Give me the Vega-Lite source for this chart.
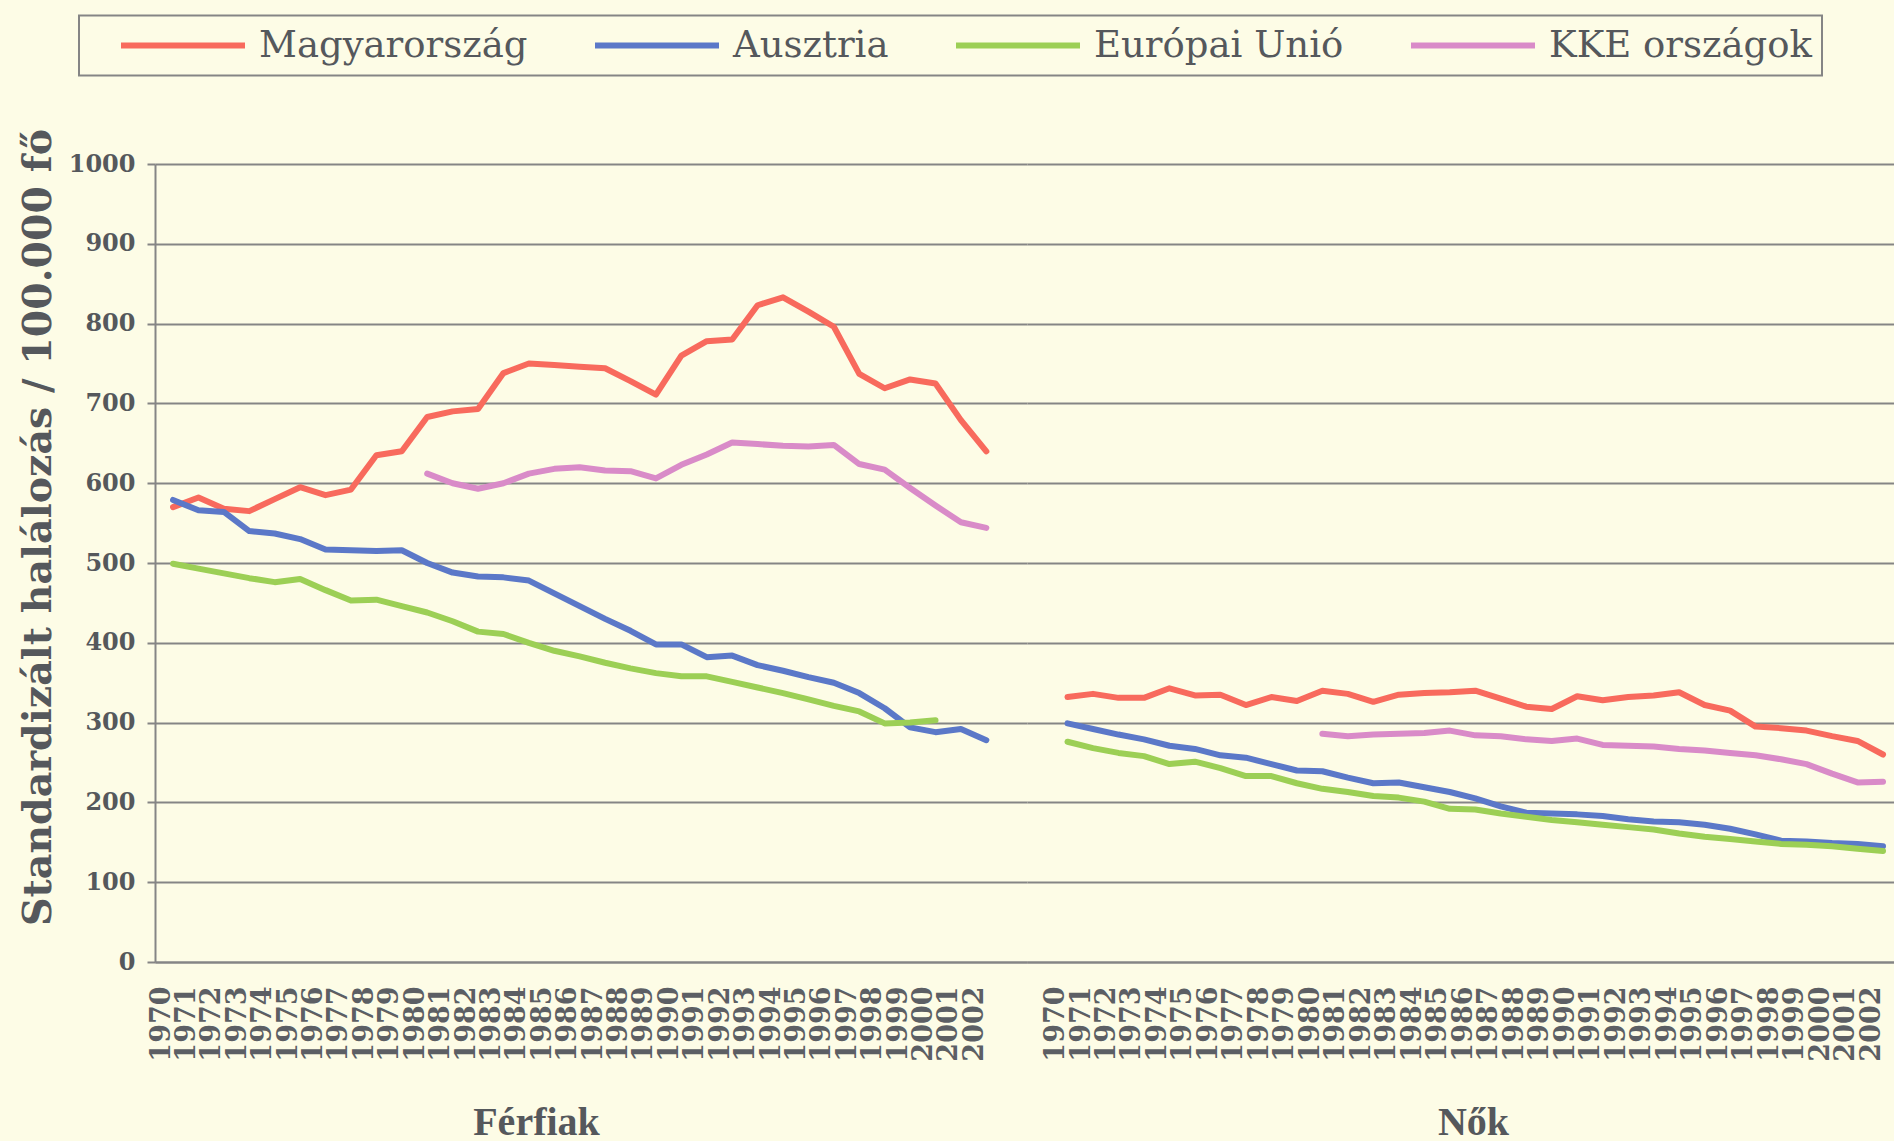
{
  "$schema": "https://vega.github.io/schema/vega-lite/v6.json",
  "background": "#fdfce6",
  "padding": {"left": 17, "top": 14, "right": 0, "bottom": 0},
  "spacing": 0,
  "datasets": {
    "ferfiak": [
      {"sor": "Magyarország", "ev": 1970, "ertek": 570}, {"sor": "Magyarország", "ev": 1971, "ertek": 582}, {"sor": "Magyarország", "ev": 1972, "ertek": 568}, {"sor": "Magyarország", "ev": 1973, "ertek": 565}, {"sor": "Magyarország", "ev": 1974, "ertek": 580}, {"sor": "Magyarország", "ev": 1975, "ertek": 595}, {"sor": "Magyarország", "ev": 1976, "ertek": 585}, {"sor": "Magyarország", "ev": 1977, "ertek": 592}, {"sor": "Magyarország", "ev": 1978, "ertek": 635}, {"sor": "Magyarország", "ev": 1979, "ertek": 640}, {"sor": "Magyarország", "ev": 1980, "ertek": 683}, {"sor": "Magyarország", "ev": 1981, "ertek": 690}, {"sor": "Magyarország", "ev": 1982, "ertek": 693}, {"sor": "Magyarország", "ev": 1983, "ertek": 738}, {"sor": "Magyarország", "ev": 1984, "ertek": 750}, {"sor": "Magyarország", "ev": 1985, "ertek": 748}, {"sor": "Magyarország", "ev": 1986, "ertek": 746}, {"sor": "Magyarország", "ev": 1987, "ertek": 744}, {"sor": "Magyarország", "ev": 1988, "ertek": 728}, {"sor": "Magyarország", "ev": 1989, "ertek": 711}, {"sor": "Magyarország", "ev": 1990, "ertek": 760}, {"sor": "Magyarország", "ev": 1991, "ertek": 778}, {"sor": "Magyarország", "ev": 1992, "ertek": 780}, {"sor": "Magyarország", "ev": 1993, "ertek": 823}, {"sor": "Magyarország", "ev": 1994, "ertek": 833}, {"sor": "Magyarország", "ev": 1995, "ertek": 815}, {"sor": "Magyarország", "ev": 1996, "ertek": 796}, {"sor": "Magyarország", "ev": 1997, "ertek": 737}, {"sor": "Magyarország", "ev": 1998, "ertek": 719}, {"sor": "Magyarország", "ev": 1999, "ertek": 730}, {"sor": "Magyarország", "ev": 2000, "ertek": 725}, {"sor": "Magyarország", "ev": 2001, "ertek": 679}, {"sor": "Magyarország", "ev": 2002, "ertek": 640},
      {"sor": "Ausztria", "ev": 1970, "ertek": 579}, {"sor": "Ausztria", "ev": 1971, "ertek": 566}, {"sor": "Ausztria", "ev": 1972, "ertek": 564}, {"sor": "Ausztria", "ev": 1973, "ertek": 540}, {"sor": "Ausztria", "ev": 1974, "ertek": 537}, {"sor": "Ausztria", "ev": 1975, "ertek": 530}, {"sor": "Ausztria", "ev": 1976, "ertek": 517}, {"sor": "Ausztria", "ev": 1977, "ertek": 516}, {"sor": "Ausztria", "ev": 1978, "ertek": 515}, {"sor": "Ausztria", "ev": 1979, "ertek": 516}, {"sor": "Ausztria", "ev": 1980, "ertek": 500}, {"sor": "Ausztria", "ev": 1981, "ertek": 488}, {"sor": "Ausztria", "ev": 1982, "ertek": 483}, {"sor": "Ausztria", "ev": 1983, "ertek": 482}, {"sor": "Ausztria", "ev": 1984, "ertek": 478}, {"sor": "Ausztria", "ev": 1985, "ertek": 462}, {"sor": "Ausztria", "ev": 1986, "ertek": 446}, {"sor": "Ausztria", "ev": 1987, "ertek": 430}, {"sor": "Ausztria", "ev": 1988, "ertek": 415}, {"sor": "Ausztria", "ev": 1989, "ertek": 398}, {"sor": "Ausztria", "ev": 1990, "ertek": 398}, {"sor": "Ausztria", "ev": 1991, "ertek": 382}, {"sor": "Ausztria", "ev": 1992, "ertek": 384}, {"sor": "Ausztria", "ev": 1993, "ertek": 372}, {"sor": "Ausztria", "ev": 1994, "ertek": 365}, {"sor": "Ausztria", "ev": 1995, "ertek": 357}, {"sor": "Ausztria", "ev": 1996, "ertek": 350}, {"sor": "Ausztria", "ev": 1997, "ertek": 337}, {"sor": "Ausztria", "ev": 1998, "ertek": 318}, {"sor": "Ausztria", "ev": 1999, "ertek": 294}, {"sor": "Ausztria", "ev": 2000, "ertek": 288}, {"sor": "Ausztria", "ev": 2001, "ertek": 292}, {"sor": "Ausztria", "ev": 2002, "ertek": 278},
      {"sor": "Európai Unió", "ev": 1970, "ertek": 499}, {"sor": "Európai Unió", "ev": 1971, "ertek": 493}, {"sor": "Európai Unió", "ev": 1972, "ertek": 487}, {"sor": "Európai Unió", "ev": 1973, "ertek": 481}, {"sor": "Európai Unió", "ev": 1974, "ertek": 476}, {"sor": "Európai Unió", "ev": 1975, "ertek": 480}, {"sor": "Európai Unió", "ev": 1976, "ertek": 466}, {"sor": "Európai Unió", "ev": 1977, "ertek": 453}, {"sor": "Európai Unió", "ev": 1978, "ertek": 454}, {"sor": "Európai Unió", "ev": 1979, "ertek": 446}, {"sor": "Európai Unió", "ev": 1980, "ertek": 438}, {"sor": "Európai Unió", "ev": 1981, "ertek": 427}, {"sor": "Európai Unió", "ev": 1982, "ertek": 414}, {"sor": "Európai Unió", "ev": 1983, "ertek": 411}, {"sor": "Európai Unió", "ev": 1984, "ertek": 400}, {"sor": "Európai Unió", "ev": 1985, "ertek": 390}, {"sor": "Európai Unió", "ev": 1986, "ertek": 383}, {"sor": "Európai Unió", "ev": 1987, "ertek": 375}, {"sor": "Európai Unió", "ev": 1988, "ertek": 368}, {"sor": "Európai Unió", "ev": 1989, "ertek": 362}, {"sor": "Európai Unió", "ev": 1990, "ertek": 358}, {"sor": "Európai Unió", "ev": 1991, "ertek": 358}, {"sor": "Európai Unió", "ev": 1992, "ertek": 351}, {"sor": "Európai Unió", "ev": 1993, "ertek": 344}, {"sor": "Európai Unió", "ev": 1994, "ertek": 337}, {"sor": "Európai Unió", "ev": 1995, "ertek": 329}, {"sor": "Európai Unió", "ev": 1996, "ertek": 321}, {"sor": "Európai Unió", "ev": 1997, "ertek": 314}, {"sor": "Európai Unió", "ev": 1998, "ertek": 299}, {"sor": "Európai Unió", "ev": 1999, "ertek": 300}, {"sor": "Európai Unió", "ev": 2000, "ertek": 303},
      {"sor": "KKE országok", "ev": 1980, "ertek": 612}, {"sor": "KKE országok", "ev": 1981, "ertek": 600}, {"sor": "KKE országok", "ev": 1982, "ertek": 593}, {"sor": "KKE országok", "ev": 1983, "ertek": 600}, {"sor": "KKE országok", "ev": 1984, "ertek": 612}, {"sor": "KKE országok", "ev": 1985, "ertek": 618}, {"sor": "KKE országok", "ev": 1986, "ertek": 620}, {"sor": "KKE országok", "ev": 1987, "ertek": 616}, {"sor": "KKE országok", "ev": 1988, "ertek": 615}, {"sor": "KKE országok", "ev": 1989, "ertek": 606}, {"sor": "KKE országok", "ev": 1990, "ertek": 623}, {"sor": "KKE országok", "ev": 1991, "ertek": 636}, {"sor": "KKE országok", "ev": 1992, "ertek": 651}, {"sor": "KKE országok", "ev": 1993, "ertek": 649}, {"sor": "KKE országok", "ev": 1994, "ertek": 647}, {"sor": "KKE országok", "ev": 1995, "ertek": 646}, {"sor": "KKE országok", "ev": 1996, "ertek": 648}, {"sor": "KKE országok", "ev": 1997, "ertek": 624}, {"sor": "KKE országok", "ev": 1998, "ertek": 617}, {"sor": "KKE országok", "ev": 1999, "ertek": 594}, {"sor": "KKE országok", "ev": 2000, "ertek": 572}, {"sor": "KKE országok", "ev": 2001, "ertek": 551}, {"sor": "KKE országok", "ev": 2002, "ertek": 544}
    ],
    "nok": [
      {"sor": "Magyarország", "ev": 1970, "ertek": 332}, {"sor": "Magyarország", "ev": 1971, "ertek": 336}, {"sor": "Magyarország", "ev": 1972, "ertek": 331}, {"sor": "Magyarország", "ev": 1973, "ertek": 331}, {"sor": "Magyarország", "ev": 1974, "ertek": 343}, {"sor": "Magyarország", "ev": 1975, "ertek": 334}, {"sor": "Magyarország", "ev": 1976, "ertek": 335}, {"sor": "Magyarország", "ev": 1977, "ertek": 322}, {"sor": "Magyarország", "ev": 1978, "ertek": 332}, {"sor": "Magyarország", "ev": 1979, "ertek": 327}, {"sor": "Magyarország", "ev": 1980, "ertek": 340}, {"sor": "Magyarország", "ev": 1981, "ertek": 336}, {"sor": "Magyarország", "ev": 1982, "ertek": 326}, {"sor": "Magyarország", "ev": 1983, "ertek": 335}, {"sor": "Magyarország", "ev": 1984, "ertek": 337}, {"sor": "Magyarország", "ev": 1985, "ertek": 338}, {"sor": "Magyarország", "ev": 1986, "ertek": 340}, {"sor": "Magyarország", "ev": 1987, "ertek": 330}, {"sor": "Magyarország", "ev": 1988, "ertek": 320}, {"sor": "Magyarország", "ev": 1989, "ertek": 317}, {"sor": "Magyarország", "ev": 1990, "ertek": 333}, {"sor": "Magyarország", "ev": 1991, "ertek": 328}, {"sor": "Magyarország", "ev": 1992, "ertek": 332}, {"sor": "Magyarország", "ev": 1993, "ertek": 334}, {"sor": "Magyarország", "ev": 1994, "ertek": 338}, {"sor": "Magyarország", "ev": 1995, "ertek": 322}, {"sor": "Magyarország", "ev": 1996, "ertek": 315}, {"sor": "Magyarország", "ev": 1997, "ertek": 295}, {"sor": "Magyarország", "ev": 1998, "ertek": 293}, {"sor": "Magyarország", "ev": 1999, "ertek": 290}, {"sor": "Magyarország", "ev": 2000, "ertek": 283}, {"sor": "Magyarország", "ev": 2001, "ertek": 277}, {"sor": "Magyarország", "ev": 2002, "ertek": 260},
      {"sor": "Ausztria", "ev": 1970, "ertek": 299}, {"sor": "Ausztria", "ev": 1971, "ertek": 292}, {"sor": "Ausztria", "ev": 1972, "ertek": 285}, {"sor": "Ausztria", "ev": 1973, "ertek": 279}, {"sor": "Ausztria", "ev": 1974, "ertek": 271}, {"sor": "Ausztria", "ev": 1975, "ertek": 267}, {"sor": "Ausztria", "ev": 1976, "ertek": 259}, {"sor": "Ausztria", "ev": 1977, "ertek": 256}, {"sor": "Ausztria", "ev": 1978, "ertek": 248}, {"sor": "Ausztria", "ev": 1979, "ertek": 240}, {"sor": "Ausztria", "ev": 1980, "ertek": 239}, {"sor": "Ausztria", "ev": 1981, "ertek": 231}, {"sor": "Ausztria", "ev": 1982, "ertek": 224}, {"sor": "Ausztria", "ev": 1983, "ertek": 225}, {"sor": "Ausztria", "ev": 1984, "ertek": 219}, {"sor": "Ausztria", "ev": 1985, "ertek": 213}, {"sor": "Ausztria", "ev": 1986, "ertek": 205}, {"sor": "Ausztria", "ev": 1987, "ertek": 195}, {"sor": "Ausztria", "ev": 1988, "ertek": 187}, {"sor": "Ausztria", "ev": 1989, "ertek": 186}, {"sor": "Ausztria", "ev": 1990, "ertek": 185}, {"sor": "Ausztria", "ev": 1991, "ertek": 183}, {"sor": "Ausztria", "ev": 1992, "ertek": 179}, {"sor": "Ausztria", "ev": 1993, "ertek": 176}, {"sor": "Ausztria", "ev": 1994, "ertek": 175}, {"sor": "Ausztria", "ev": 1995, "ertek": 172}, {"sor": "Ausztria", "ev": 1996, "ertek": 167}, {"sor": "Ausztria", "ev": 1997, "ertek": 160}, {"sor": "Ausztria", "ev": 1998, "ertek": 152}, {"sor": "Ausztria", "ev": 1999, "ertek": 151}, {"sor": "Ausztria", "ev": 2000, "ertek": 149}, {"sor": "Ausztria", "ev": 2001, "ertek": 148}, {"sor": "Ausztria", "ev": 2002, "ertek": 145},
      {"sor": "Európai Unió", "ev": 1970, "ertek": 276}, {"sor": "Európai Unió", "ev": 1971, "ertek": 268}, {"sor": "Európai Unió", "ev": 1972, "ertek": 262}, {"sor": "Európai Unió", "ev": 1973, "ertek": 258}, {"sor": "Európai Unió", "ev": 1974, "ertek": 248}, {"sor": "Európai Unió", "ev": 1975, "ertek": 251}, {"sor": "Európai Unió", "ev": 1976, "ertek": 243}, {"sor": "Európai Unió", "ev": 1977, "ertek": 233}, {"sor": "Európai Unió", "ev": 1978, "ertek": 233}, {"sor": "Európai Unió", "ev": 1979, "ertek": 224}, {"sor": "Európai Unió", "ev": 1980, "ertek": 217}, {"sor": "Európai Unió", "ev": 1981, "ertek": 213}, {"sor": "Európai Unió", "ev": 1982, "ertek": 208}, {"sor": "Európai Unió", "ev": 1983, "ertek": 206}, {"sor": "Európai Unió", "ev": 1984, "ertek": 201}, {"sor": "Európai Unió", "ev": 1985, "ertek": 192}, {"sor": "Európai Unió", "ev": 1986, "ertek": 191}, {"sor": "Európai Unió", "ev": 1987, "ertek": 186}, {"sor": "Európai Unió", "ev": 1988, "ertek": 182}, {"sor": "Európai Unió", "ev": 1989, "ertek": 178}, {"sor": "Európai Unió", "ev": 1990, "ertek": 175}, {"sor": "Európai Unió", "ev": 1991, "ertek": 172}, {"sor": "Európai Unió", "ev": 1992, "ertek": 169}, {"sor": "Európai Unió", "ev": 1993, "ertek": 166}, {"sor": "Európai Unió", "ev": 1994, "ertek": 161}, {"sor": "Európai Unió", "ev": 1995, "ertek": 157}, {"sor": "Európai Unió", "ev": 1996, "ertek": 154}, {"sor": "Európai Unió", "ev": 1997, "ertek": 151}, {"sor": "Európai Unió", "ev": 1998, "ertek": 148}, {"sor": "Európai Unió", "ev": 1999, "ertek": 147}, {"sor": "Európai Unió", "ev": 2000, "ertek": 145}, {"sor": "Európai Unió", "ev": 2001, "ertek": 142}, {"sor": "Európai Unió", "ev": 2002, "ertek": 139},
      {"sor": "KKE országok", "ev": 1980, "ertek": 286}, {"sor": "KKE országok", "ev": 1981, "ertek": 283}, {"sor": "KKE országok", "ev": 1982, "ertek": 285}, {"sor": "KKE országok", "ev": 1983, "ertek": 286}, {"sor": "KKE országok", "ev": 1984, "ertek": 287}, {"sor": "KKE országok", "ev": 1985, "ertek": 290}, {"sor": "KKE országok", "ev": 1986, "ertek": 284}, {"sor": "KKE országok", "ev": 1987, "ertek": 283}, {"sor": "KKE országok", "ev": 1988, "ertek": 279}, {"sor": "KKE országok", "ev": 1989, "ertek": 277}, {"sor": "KKE országok", "ev": 1990, "ertek": 280}, {"sor": "KKE országok", "ev": 1991, "ertek": 272}, {"sor": "KKE országok", "ev": 1992, "ertek": 271}, {"sor": "KKE országok", "ev": 1993, "ertek": 270}, {"sor": "KKE országok", "ev": 1994, "ertek": 267}, {"sor": "KKE országok", "ev": 1995, "ertek": 265}, {"sor": "KKE országok", "ev": 1996, "ertek": 262}, {"sor": "KKE országok", "ev": 1997, "ertek": 259}, {"sor": "KKE országok", "ev": 1998, "ertek": 254}, {"sor": "KKE országok", "ev": 1999, "ertek": 248}, {"sor": "KKE országok", "ev": 2000, "ertek": 236}, {"sor": "KKE országok", "ev": 2001, "ertek": 225}, {"sor": "KKE országok", "ev": 2002, "ertek": 226}
    ]
  },
  "hconcat": [
    {
      "data": {"name": "ferfiak"},
      "width": 872,
      "height": 798,
      "mark": {"type": "line", "strokeWidth": 6, "strokeJoin": "round", "strokeCap": "round"},
      "encoding": {
        "x": {
          "field": "ev", "type": "quantitative",
          "scale": {"domain": [1969.29, 2003.6], "nice": false, "zero": false},
          "axis": {
            "values": [1970,1971,1972,1973,1974,1975,1976,1977,1978,1979,1980,1981,1982,1983,1984,1985,1986,1987,1988,1989,1990,1991,1992,1993,1994,1995,1996,1997,1998,1999,2000,2001,2002],
            "format": "d", "title": "Férfiak", "titleX": 381
          }
        },
        "y": {
          "field": "ertek", "type": "quantitative",
          "scale": {"domain": [0, 1000], "nice": false},
          "axis": {
            "values": [0,100,200,300,400,500,600,700,800,900,1000],
            "format": "d",
            "title": "Standardizált halálozás / 100.000 fő"
          }
        },
        "color": {
          "field": "sor", "type": "nominal",
          "scale": {"domain": ["Magyarország", "Ausztria", "Európai Unió", "KKE országok"], "range": ["#f86a5d", "#5b78c8", "#9ccf55", "#d98bc8"]},
          "legend": {"title": null}
        }
      }
    },
    {
      "data": {"name": "nok"},
      "width": 869,
      "height": 798,
      "mark": {"type": "line", "strokeWidth": 6, "strokeJoin": "round", "strokeCap": "round"},
      "encoding": {
        "x": {
          "field": "ev", "type": "quantitative",
          "scale": {"domain": [1968.41, 2002.51], "nice": false, "zero": false},
          "axis": {
            "values": [1970,1971,1972,1973,1974,1975,1976,1977,1978,1979,1980,1981,1982,1983,1984,1985,1986,1987,1988,1989,1990,1991,1992,1993,1994,1995,1996,1997,1998,1999,2000,2001,2002],
            "format": "d", "title": "Nők", "titleX": 446
          }
        },
        "y": {
          "field": "ertek", "type": "quantitative",
          "scale": {"domain": [0, 1000], "nice": false},
          "axis": {
            "values": [0,100,200,300,400,500,600,700,800,900,1000],
            "title": null, "labels": false, "ticks": false, "domain": false
          }
        },
        "color": {
          "field": "sor", "type": "nominal",
          "scale": {"domain": ["Magyarország", "Ausztria", "Európai Unió", "KKE országok"], "range": ["#f86a5d", "#5b78c8", "#9ccf55", "#d98bc8"]},
          "legend": {"title": null}
        }
      }
    }
  ],
  "resolve": {"scale": {"x": "independent", "y": "independent", "color": "shared"}, "legend": {"color": "shared"}},
  "config": {
    "view": {"stroke": null},
    "axis": {
      "gridColor": "#858585", "gridWidth": 2,
      "domainColor": "#858585", "domainWidth": 2,
      "tickColor": "#858585", "tickWidth": 2,
      "labelColor": "#55585c", "titleColor": "#55585c",
      "labelFont": "DejaVu Serif", "labelFontWeight": "bold"
    },
    "axisX": {
      "grid": false, "ticks": false, "tickSize": 0,
      "labelFontSize": 27, "labelPadding": 24, "labelAngle": 270, "labelOffset": -12,
      "labelColor": "#5c5f64",
      "labelFlush": false, "labelOverlap": false, "labelBound": false,
      "titleFont": "Liberation Serif", "titleFontSize": 40, "titleFontWeight": "bold",
      "titleBaseline": "alphabetic", "titleAlign": "center", "titleY": 172
    },
    "axisY": {
      "grid": true, "tickSize": 8, "labelFontSize": 24, "labelPadding": 12,
      "labelFlush": false, "labelOverlap": false,
      "titleFont": "DejaVu Serif", "titleFontSize": 39.5, "titleFontWeight": "bold",
      "titleAngle": 270, "titleAlign": "center", "titleBaseline": "middle",
      "titleX": -117, "titleY": 363
    },
    "legend": {
      "orient": "none", "legendX": -76, "legendY": -148.5,
      "direction": "horizontal",
      "symbolType": "stroke", "symbolSize": 15376, "symbolStrokeWidth": 6, "symbolOffset": 29,
      "labelOffset": 11, "labelFont": "DejaVu Serif", "labelFontSize": 37, "labelColor": "#55585c",
      "labelLimit": 500, "clipHeight": 40, "padding": 10, "columnPadding": 35,
      "strokeColor": "#858585", "strokeWidth": 2
    }
  }
}
